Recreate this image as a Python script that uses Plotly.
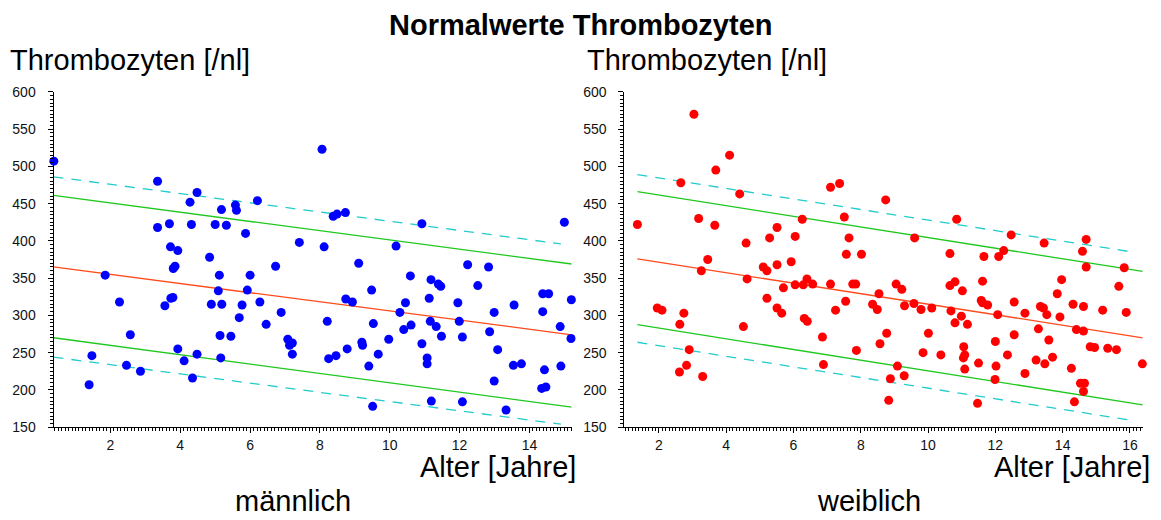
import plotly.graph_objects as go

# Platelet counts by age, boys
male_age = [0.38, 3.35, 3.35, 3.69, 3.72, 3.93, 3.80, 3.85, 4.28, 4.48, 4.32, 4.84, 5.00, 5.18,
            5.32, 5.58, 5.61, 5.87, 6.21, 5.12, 6.00, 6.73, 7.41, 1.85, 1.39, 1.47, 2.26, 2.57,
            2.46, 2.86, 3.56, 3.73, 3.79, 3.93, 4.11, 4.35, 4.48, 5.09, 4.89, 5.19, 5.14, 5.16,
            5.45, 5.69, 5.77, 5.92, 6.28, 6.46, 6.89, 7.08, 7.13, 7.21, 7.21, 8.06, 8.12, 8.38,
            8.49, 8.73, 9.11, 10.18, 10.59, 10.92, 11.18, 12.23, 12.83, 15.00, 11.39, 11.46,
            12.52, 9.48, 8.74, 8.93, 8.21, 8.25, 8.46, 8.78, 9.20, 9.22, 9.53, 9.67, 9.40, 9.51,
            9.97, 10.29, 10.45, 10.40, 10.61, 10.92, 11.07, 11.07, 11.13, 11.16, 11.33, 11.48,
            11.19, 11.95, 11.99, 12.08, 12.08, 12.86, 12.99, 13.09, 12.99, 13.33, 13.56, 13.54,
            13.77, 14.38, 14.55, 14.38, 14.43, 14.35, 14.47, 14.88, 14.90, 15.20, 15.19]
male_plt = [507, 480, 418, 423, 392, 387, 363, 366, 452, 465, 422, 378, 422, 442,
            421, 448, 441, 410, 454, 354, 354, 366, 398, 354, 207, 246, 318, 274,
            233, 225, 313, 323, 324, 255, 239, 216, 248, 333, 315, 315, 273, 243,
            272, 297, 314, 334, 318, 288, 304, 268, 260, 263, 248, 523, 392, 433,
            436, 438, 370, 393, 353, 423, 348, 368, 365, 425, 342, 339,
            340, 334, 322, 318, 292, 242, 246, 255, 264, 260, 289, 248, 232, 178,
            268, 304, 317, 281, 287, 262, 243, 235, 323, 292, 285, 272,
            185, 317, 292, 271, 184, 278, 304, 254, 212, 173, 314, 233,
            235, 329, 329, 305, 227, 202, 204, 285, 232, 321, 269]

# Platelet counts by age, girls
female_age = [1.36, 3.04, 2.65, 3.18, 3.69, 4.10, 3.66, 4.40, 3.45, 3.26, 4.59, 4.62, 5.10, 5.21,
              5.29, 5.51, 5.51, 5.93, 6.05, 6.26, 6.40, 7.10, 7.37, 7.51, 7.65, 7.57, 8.02, 8.74,
              9.60, 10.85, 10.65, 11.66, 12.10, 12.25, 12.47, 13.45, 14.59, 14.70, 14.70, 15.83,
              11.62, 13.97,
              1.95, 2.09, 2.62, 2.74, 2.90, 2.82, 2.61, 3.30, 4.51, 5.21, 5.51, 5.65, 5.70, 6.05,
              6.29, 6.57, 6.32, 6.41, 6.86, 6.89, 7.10, 7.25, 7.55, 7.76, 7.85, 7.87, 8.35, 8.49,
              8.54, 8.57,
              8.77, 8.88, 8.83, 9.05, 9.22, 9.09, 9.29, 9.30, 9.58, 9.79, 9.85, 10.01, 10.11, 10.38,
              10.65, 10.80, 11.02, 10.68, 10.99, 10.80, 11.17, 11.06, 11.09, 11.05, 11.09, 11.50,
              11.47, 11.58, 11.62, 11.77, 12.07, 12.00, 12.02, 11.99, 12.36, 12.56, 12.56, 12.88,
              12.88, 13.21, 13.28, 13.34, 13.43, 13.53, 13.47, 13.59, 13.70, 13.84, 13.92, 14.26,
              14.31, 14.35, 14.41, 14.62, 14.62, 14.53, 14.65, 14.62, 14.82, 14.95, 15.19, 15.34,
              15.60, 15.67, 15.89, 16.37]
female_plt = [422, 570, 478, 430, 495, 515, 421, 463, 375, 360, 397, 349, 365, 360,
              404, 418, 368, 372, 406, 429, 349, 472, 477, 432, 404, 382, 382, 455,
              404, 429, 383, 379, 379, 387, 408, 397, 386, 402, 365, 364,
              346, 348,
              310, 307, 288, 303, 254, 233, 224, 218, 285, 323, 310, 303, 337, 341,
              341, 342, 296, 292, 271, 234, 342, 307, 319, 342, 342, 253, 315, 308,
              329, 262,
              276, 215, 186, 342, 335, 232, 219, 313, 316, 308, 250, 276, 310, 247,
              340, 345, 333, 306, 299, 290, 288, 258, 247, 243, 228, 236,
              182, 320, 317, 314, 301, 265, 232, 214, 247, 318, 274, 303,
              222, 240, 282, 312, 310, 301, 235, 267, 244, 329, 298, 229,
              315, 184, 281, 279, 312, 209, 209, 198, 258, 257, 307, 256,
              254, 339, 304, 235]

# Reference curves (mean, inner and outer limits) at the ends of each age span
male_curve_age = [0.37, 15.21]
male_mean = [365, 274]
male_inner_hi = [461, 369]
male_inner_lo = [270, 177]
male_outer_age = [0.37, 14.9]
male_outer_hi = [486, 396]
male_outer_lo = [244, 154]

female_curve_age = [1.36, 16.38]
female_mean = [376, 270]
female_inner_hi = [466, 359]
female_inner_lo = [287.5, 180]
female_outer_age = [1.36, 16.08]
female_outer_hi = [489, 385]
female_outer_lo = [264, 159]

x_ranges = {"x": [0.37, 15.21], "x2": [0.97, 16.38]}
y_range = [150, 600]

W, H = 1161, 520
FONT = "Liberation Sans, Arial, sans-serif"
ORANGE = "#ff4a1c"
GREEN = "#1ec81e"
CYAN = "#22cccc"

fig = go.Figure()


def add_panel(xa, ya, ages, vals, color, c_age, mean, ihi, ilo, o_age, ohi, olo):
    for yv in (ohi, olo):
        fig.add_trace(go.Scatter(x=o_age, y=yv, mode="lines", xaxis=xa, yaxis=ya,
                                 line=dict(color=CYAN, width=1.3, dash="10px,8px"),
                                 hoverinfo="skip"))
    for yv in (ihi, ilo):
        fig.add_trace(go.Scatter(x=c_age, y=yv, mode="lines", xaxis=xa, yaxis=ya,
                                 line=dict(color=GREEN, width=1.3), hoverinfo="skip"))
    fig.add_trace(go.Scatter(x=c_age, y=mean, mode="lines", xaxis=xa, yaxis=ya,
                             line=dict(color=ORANGE, width=1.3), hoverinfo="skip"))
    fig.add_trace(go.Scatter(x=ages, y=vals, mode="markers", xaxis=xa, yaxis=ya,
                             marker=dict(color=color, size=9, line=dict(width=0)),
                             cliponaxis=False))


add_panel("x", "y", male_age, male_plt, "#0000ff", male_curve_age, male_mean,
          male_inner_hi, male_inner_lo, male_outer_age, male_outer_hi, male_outer_lo)
add_panel("x2", "y2", female_age, female_plt, "#ff0000", female_curve_age, female_mean,
          female_inner_hi, female_inner_lo, female_outer_age, female_outer_hi, female_outer_lo)

y_dom = [1 - 432.5 / H, 1 - 86.5 / H]
tick_font = dict(family=FONT, size=14, color="#111")


def xaxis(dom, rng, anchor):
    return dict(domain=dom, range=rng, anchor=anchor, showline=True, linecolor="black",
                linewidth=1, ticks="outside", ticklen=5, tickcolor="black", tick0=0, dtick=2,
                minor=dict(dtick=0.1, ticks="outside", ticklen=3, tickcolor="black", showgrid=False),
                showgrid=False, zeroline=False, tickfont=tick_font, ticklabelstandoff=0,
                fixedrange=True)


def yaxis(anchor):
    return dict(domain=y_dom, range=y_range, anchor=anchor, showline=True, linecolor="black",
                linewidth=1, ticks="outside", ticklen=5, tickcolor="black", tick0=0, dtick=50,
                minor=dict(dtick=5, ticks="outside", ticklen=3, tickcolor="black", showgrid=False),
                showgrid=False, zeroline=False, tickfont=tick_font, ticklabelstandoff=9,
                fixedrange=True)


def ann(text, px, py, size, xanchor="center", bold=False):
    return dict(text=f"<b>{text}</b>" if bold else text, x=px / W, y=1 - py / H,
                xref="paper", yref="paper", xanchor=xanchor, yanchor="middle",
                showarrow=False, font=dict(family=FONT, size=size, color="black"))


fig.update_layout(
    width=W, height=H, margin=dict(l=0, r=0, t=0, b=0),
    paper_bgcolor="white", plot_bgcolor="white", showlegend=False,
    xaxis=xaxis([53.5 / W, 571.7 / W], x_ranges["x"], "y"),
    yaxis=yaxis("x"),
    xaxis2=xaxis([624.3 / W, 1142.7 / W], x_ranges["x2"], "y2"),
    yaxis2=yaxis("x2"),
    annotations=[
        ann("Normalwerte Thrombozyten", 581, 18, 29, bold=True),
        ann("Thrombozyten [/nl]", 8, 54, 29, xanchor="left"),
        ann("Thrombozyten [/nl]", 585, 54, 29, xanchor="left"),
        ann("Alter [Jahre]", 578, 474, 29, xanchor="right"),
        ann("Alter [Jahre]", 1152, 474, 29, xanchor="right"),
        ann("männlich", 293, 509, 29),
        ann("weiblich", 869, 509, 29),
    ],
)

fig.write_html("out.html")
